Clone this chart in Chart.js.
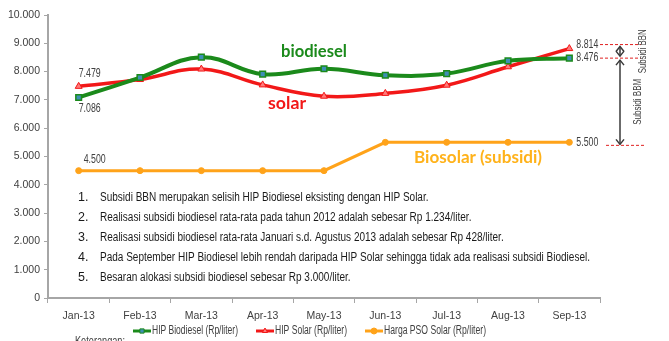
<!DOCTYPE html>
<html>
<head>
<meta charset="utf-8">
<script src="https://cdn.jsdelivr.net/npm/chart.js@4.4.0/dist/chart.umd.min.js"></script>
<style>
  html, body { margin: 0; padding: 0; background: #fff; }
  #wrap { width: 669px; height: 341px; }
</style>
</head>
<body>
<div id="wrap"><canvas id="hipChart" width="669" height="341"></canvas></div>
<script>
// Data
const months = ['Jan-13', 'Feb-13', 'Mar-13', 'Apr-13', 'May-13', 'Jun-13', 'Jul-13', 'Aug-13', 'Sep-13'];
const hipBiodiesel = [7086, 7790, 8510, 7910, 8100, 7870, 7930, 8380, 8476];
const hipSolar = [7479, 7720, 8090, 7530, 7130, 7230, 7520, 8170, 8814];
const psoSolar = [4500, 4500, 4500, 4500, 4500, 5500, 5500, 5500, 5500];
const seriesNames = ['HIP Biodiesel (Rp/liter)', 'HIP Solar (Rp/liter)', 'Harga PSO Solar (Rp/liter)'];
const notes = [
    'Subsidi BBN merupakan selisih HIP Biodiesel eksisting dengan HIP Solar.',
    'Realisasi subsidi biodiesel rata-rata pada tahun 2012 adalah sebesar Rp 1.234/liter.',
    'Realisasi subsidi biodiesel rata-rata Januari s.d. Agustus 2013 adalah sebesar Rp 428/liter.',
    'Pada September HIP Biodiesel lebih rendah daripada HIP Solar sehingga tidak ada realisasi subsidi Biodiesel.',
    'Besaran alokasi subsidi biodiesel sebesar Rp 3.000/liter.'
];

const NARROW = '"Liberation Sans", Arial, sans-serif';
const GREEN = '#1b8a1b';
const RED = '#f21818';
const ORANGE = '#ffa31a';

function fmt(v) {
    return String(v).replace(/\B(?=(\d{3})+(?!\d))/g, '.');
}

// draw text squeezed to a given width (the original uses a narrow face)
function fitText(ctx, text, x, y, width) {
    const w = ctx.measureText(text).width;
    ctx.save();
    ctx.translate(x, y);
    ctx.scale(width / w, 1);
    ctx.fillText(text, 0, 0);
    ctx.restore();
}

function arrowHead(ctx, x, y, dir) {
    ctx.beginPath();
    ctx.moveTo(x - 4, y - 5 * dir);
    ctx.lineTo(x, y);
    ctx.lineTo(x + 4, y - 5 * dir);
    ctx.stroke();
}

function doubleArrow(ctx, x, y1, y2) {
    ctx.beginPath();
    ctx.moveTo(x, y1);
    ctx.lineTo(x, y2);
    ctx.stroke();
    arrowHead(ctx, x, y1, -1);
    arrowHead(ctx, x, y2, 1);
}

const overlay = {
    id: 'overlay',
    afterDatasetsDraw(chart) {
        const ctx = chart.ctx;
        const x = chart.scales.x;
        const y = chart.scales.y;
        const last = months.length - 1;

        ctx.save();
        // value labels
        ctx.font = '12px ' + NARROW;
        ctx.fillStyle = '#404040';
        ctx.textAlign = 'left';
        ctx.textBaseline = 'middle';
        fitText(ctx, fmt(hipSolar[0]), x.getPixelForValue(0), y.getPixelForValue(hipSolar[0]) - 13, 22);
        fitText(ctx, fmt(hipBiodiesel[0]), x.getPixelForValue(0), y.getPixelForValue(hipBiodiesel[0]) + 11, 22);
        fitText(ctx, fmt(psoSolar[0]), x.getPixelForValue(0) + 5, y.getPixelForValue(psoSolar[0]) - 11, 22);
        const xr = x.getPixelForValue(last) + 7;
        fitText(ctx, fmt(hipSolar[last]), xr, y.getPixelForValue(hipSolar[last]) - 4, 22);
        fitText(ctx, fmt(hipBiodiesel[last]), xr, y.getPixelForValue(hipBiodiesel[last]), 22);
        fitText(ctx, fmt(psoSolar[last]), xr, y.getPixelForValue(psoSolar[last]), 22);

        // subsidy brackets
        const ySol = y.getPixelForValue(hipSolar[last]) - 4;
        const yBio = y.getPixelForValue(hipBiodiesel[last]);
        const yPso = y.getPixelForValue(psoSolar[last]) + 3;
        ctx.strokeStyle = '#e02020';
        ctx.lineWidth = 1;
        ctx.setLineDash([3, 2]);
        ctx.beginPath();
        ctx.moveTo(600, ySol); ctx.lineTo(641, ySol);
        ctx.moveTo(600, yBio); ctx.lineTo(641, yBio);
        ctx.moveTo(606, yPso); ctx.lineTo(645, yPso);
        ctx.stroke();
        ctx.setLineDash([]);
        ctx.strokeStyle = '#3a3a3a';
        ctx.lineWidth = 1.5;
        doubleArrow(ctx, 620, ySol + 2, yBio - 2);
        doubleArrow(ctx, 620, yBio + 2, yPso - 1);

        ctx.fillStyle = '#404040';
        ctx.font = '10px ' + NARROW;
        ctx.textAlign = 'left';
        ctx.save();
        ctx.translate(643, (ySol + yBio) / 2 + 22);
        ctx.rotate(-Math.PI / 2);
        fitText(ctx, 'Subsidi BBN', 0, 0, 44);
        ctx.restore();
        ctx.save();
        ctx.translate(638, (yBio + yPso) / 2 + 23);
        ctx.rotate(-Math.PI / 2);
        fitText(ctx, 'Subsidi BBM', 0, 0, 46);
        ctx.restore();

        // series captions
        ctx.font = 'bold 17px Lato, "Open Sans", sans-serif';
        ctx.fillStyle = GREEN;
        fitText(ctx, 'biodiesel', 281, 52, 66);
        ctx.fillStyle = RED;
        fitText(ctx, 'solar', 268, 104, 38);
        ctx.fillStyle = '#ffb21a';
        fitText(ctx, 'Biosolar (subsidi)', 414, 158, 128);

        // notes
        ctx.font = '12.5px ' + NARROW;
        ctx.fillStyle = '#1a1a1a';
        const squeeze = 490 / ctx.measureText(notes[3]).width;
        notes.forEach((t, i) => {
            const yy = 198 + i * 20;
            ctx.fillText((i + 1) + '.', 78, yy);
            fitText(ctx, t, 100, yy, ctx.measureText(t).width * squeeze);
        });
        ctx.restore();
    },
    afterDraw(chart) {
        const ctx = chart.ctx;
        const ds = chart.data.datasets;
        const starts = [133, 256, 365];
        const textWidths = [86, 72, 102];
        ctx.save();
        ctx.font = '12px ' + NARROW;
        ctx.textBaseline = 'middle';
        ds.forEach((d, i) => {
            const sx = starts[i];
            const yy = 331;
            ctx.strokeStyle = d.borderColor;
            ctx.lineWidth = 3;
            ctx.beginPath();
            ctx.moveTo(sx, yy);
            ctx.lineTo(sx + 18, yy);
            ctx.stroke();
            ctx.fillStyle = d.pointBackgroundColor;
            ctx.strokeStyle = d.pointBorderColor;
            ctx.lineWidth = 1;
            Chart.helpers.drawPoint(ctx, { pointStyle: d.pointStyle, radius: 3, rotation: 0, borderWidth: 1 }, sx + 9, yy);
            ctx.fillStyle = '#404040';
            fitText(ctx, d.label, sx + 19, yy, textWidths[i]);
        });
        ctx.fillStyle = '#404040';
        fitText(ctx, 'Keterangan:', 75, 342, 50);
        ctx.restore();
    }
};

new Chart(document.getElementById('hipChart'), {
    type: 'line',
    data: {
        labels: months,
        datasets: [
            {
                label: seriesNames[0],
                data: hipBiodiesel,
                borderColor: GREEN,
                borderWidth: 4,
                tension: 0.4,
                pointStyle: 'rect',
                pointRadius: 4,
                pointBackgroundColor: '#3e8fb5',
                pointBorderColor: GREEN,
                pointBorderWidth: 1.5
            },
            {
                label: seriesNames[1],
                data: hipSolar,
                borderColor: RED,
                borderWidth: 3.5,
                tension: 0.4,
                pointStyle: 'triangle',
                pointRadius: 4,
                pointBackgroundColor: '#ff7a7a',
                pointBorderColor: RED,
                pointBorderWidth: 1
            },
            {
                label: seriesNames[2],
                data: psoSolar,
                borderColor: ORANGE,
                borderWidth: 3,
                tension: 0,
                pointStyle: 'circle',
                pointRadius: 3,
                pointBackgroundColor: ORANGE,
                pointBorderColor: ORANGE,
                pointBorderWidth: 1
            }
        ]
    },
    options: {
        responsive: false,
        animation: false,
        layout: { padding: { left: 0, right: 69, top: 15, bottom: 0 } },
        plugins: {
            legend: { display: false },
            tooltip: { enabled: false }
        },
        scales: {
            x: {
                offset: true,
                grid: { offset: true, drawOnChartArea: false, color: '#a6a6a6', tickLength: 5 },
                border: { color: '#a6a6a6', width: 2 },
                ticks: { color: '#404040', font: { family: NARROW, size: 10.5 }, padding: 7, maxRotation: 0 },
                afterFit(scale) { scale.height = 43; }
            },
            y: {
                min: 0,
                max: 10000,
                grid: { drawOnChartArea: false, color: '#a6a6a6', tickLength: 4 },
                border: { color: '#a6a6a6', width: 2 },
                ticks: {
                    stepSize: 1000,
                    color: '#404040',
                    font: { family: NARROW, size: 10.5 },
                    padding: 4,
                    callback: v => fmt(v)
                },
                afterFit(scale) { scale.width = 48; }
            }
        }
    },
    plugins: [overlay]
});
</script>
</body>
</html>
